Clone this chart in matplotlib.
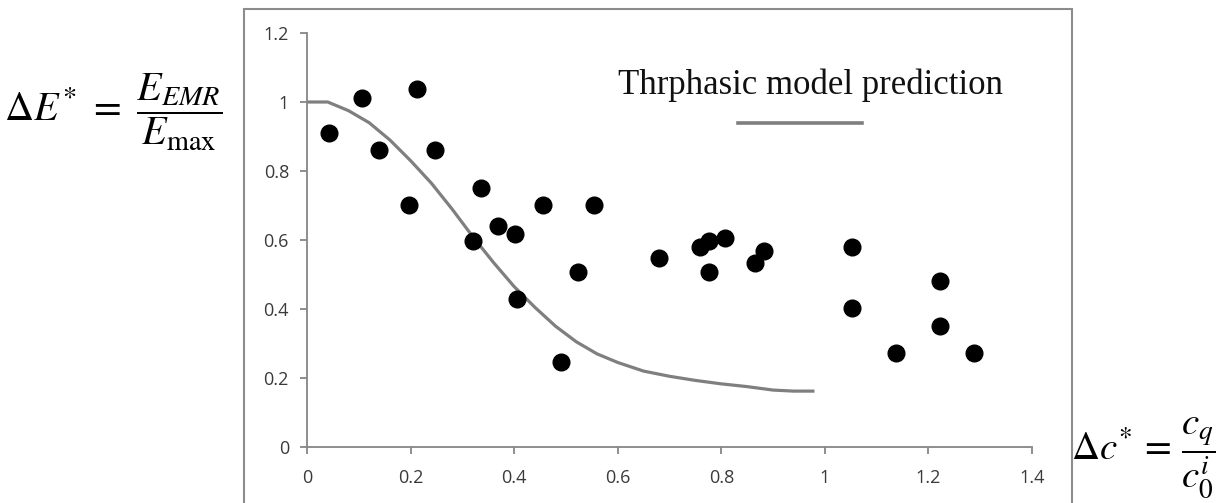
import matplotlib
matplotlib.use("Agg")
import matplotlib.pyplot as plt
from matplotlib.patches import Rectangle
from matplotlib.lines import Line2D

# measured points (delta c*, delta E*)
dc_meas = [0.042, 0.107, 0.139, 0.197, 0.213, 0.247, 0.320, 0.336, 0.369, 0.402,
           0.405, 0.456, 0.490, 0.523, 0.555, 0.679, 0.759, 0.776, 0.776, 0.808,
           0.865, 0.883, 1.052, 1.052, 1.138, 1.222, 1.222, 1.288]
dE_meas = [0.911, 1.011, 0.861, 0.701, 1.037, 0.861, 0.596, 0.752, 0.641, 0.616,
           0.428, 0.701, 0.247, 0.506, 0.701, 0.547, 0.581, 0.597, 0.506, 0.607,
           0.532, 0.568, 0.581, 0.402, 0.272, 0.481, 0.351, 0.272]

# triphasic model curve
dc_model = [0, 0.04, 0.08, 0.12, 0.16, 0.20, 0.24, 0.28, 0.32, 0.36, 0.40, 0.44,
            0.48, 0.52, 0.56, 0.60, 0.65, 0.70, 0.75, 0.80, 0.85, 0.90, 0.94, 0.98]
dE_model = [1.0, 1.0, 0.975, 0.94, 0.89, 0.83, 0.765, 0.69, 0.61, 0.535, 0.465, 0.405,
            0.35, 0.305, 0.27, 0.245, 0.22, 0.205, 0.193, 0.183, 0.175, 0.165, 0.162, 0.162]

x_ticks = [0, 0.2, 0.4, 0.6, 0.8, 1, 1.2, 1.4]
y_ticks = [0, 0.2, 0.4, 0.6, 0.8, 1, 1.2]
x_labels = ['0', '0.2', '0.4', '0.6', '0.8', '1', '1.2', '1.4']
y_labels = ['0', '0.2', '0.4', '0.6', '0.8', '1', '1.2']

plt.rcParams['mathtext.fontset'] = 'stix'

fig = plt.figure(figsize=(12.22, 5.03), dpi=100)
ax = fig.add_axes([307 / 1222, 56 / 503, 725 / 1222, 414 / 503])

ax.plot(dc_model, dE_model, color='#7f7f7f', lw=2.3, solid_capstyle='butt', zorder=2)
ax.plot(dc_meas, dE_meas, 'o', color='black', markersize=12, zorder=3)

ax.set_xlim(0, 1.4)
ax.set_ylim(0, 1.2)
ax.set_xticks(x_ticks)
ax.set_yticks(y_ticks)
ax.set_xticklabels(x_labels)
ax.set_yticklabels(y_labels)

for s in ['top', 'right']:
    ax.spines[s].set_visible(False)
for s in ['left', 'bottom']:
    ax.spines[s].set_color('#868686')
    ax.spines[s].set_linewidth(1.3)
ax.tick_params(axis='both', colors='#868686', labelcolor='#3a3a3a', length=5,
               width=1.3, labelsize=13)
ax.tick_params(axis='y', pad=8)
ax.tick_params(axis='x', pad=11)
for lab in ax.get_xticklabels() + ax.get_yticklabels():
    lab.set_fontfamily('Open Sans')

# legend-like annotation
ax.text(0.695, 0.875, 'Thrphasic model prediction', transform=ax.transAxes,
        ha='center', va='center', fontsize=25, family='Liberation Serif', color='#111111')
ax.add_line(Line2D([0.594, 0.766], [0.783, 0.783], transform=ax.transAxes,
                   color='#7f7f7f', lw=2.6, clip_on=False))

# outer chart border
fig.patches.append(Rectangle((244 / 1222, -0.05), (1072 - 244) / 1222, 1 - 9 / 503 + 0.05,
                             transform=fig.transFigure, fill=False,
                             edgecolor='#8c8c8c', lw=1.5))

fig.text(4 / 1222, 1 - 112 / 503, r'$\Delta E^{*}\ =\ \dfrac{E_{EMR}}{E_{\max}}$',
         ha='left', va='center', fontsize=29)
fig.text(1071 / 1222, 1 - 458 / 503, r'$\Delta c^{*}\,=\,\dfrac{c_{q}}{c_{0}^{i}}$',
         ha='left', va='center', fontsize=28)

fig.savefig('out.png', dpi=100)
